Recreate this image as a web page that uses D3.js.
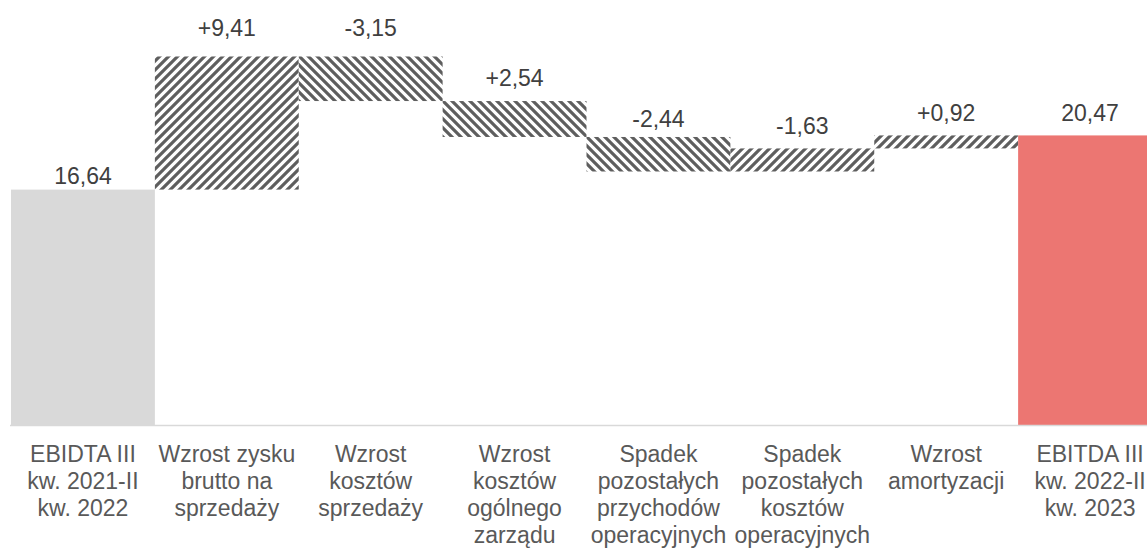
<!DOCTYPE html>
<html><head><meta charset="utf-8">
<script src="https://cdn.jsdelivr.net/npm/d3@7"></script>
<style>
html,body{margin:0;padding:0;background:#fff;overflow:hidden}
svg{display:block;font-family:"Liberation Sans",Arial,sans-serif}
</style></head><body>
<svg id="chart" width="1147" height="549"></svg>
<script>
// ---- data ----
const categories = [
  "EBIDTA III kw. 2021-II kw. 2022",
  "Wzrost zysku brutto na sprzedaży",
  "Wzrost kosztów sprzedaży",
  "Wzrost kosztów ogólnego zarządu",
  "Spadek pozostałych przychodów operacyjnych",
  "Spadek pozostałych kosztów operacyjnych",
  "Wzrost amortyzacji",
  "EBITDA III kw. 2022-II kw. 2023"
];
const labelLines = [
  ["EBIDTA III","kw. 2021-II","kw. 2022"],
  ["Wzrost zysku","brutto na","sprzedaży"],
  ["Wzrost","kosztów","sprzedaży"],
  ["Wzrost","kosztów","ogólnego","zarządu"],
  ["Spadek","pozostałych","przychodów","operacyjnych"],
  ["Spadek","pozostałych","kosztów","operacyjnych"],
  ["Wzrost","amortyzacji"],
  ["EBITDA III","kw. 2022-II","kw. 2023"]
];
const kinds = ["total","delta","delta","delta","delta","delta","delta","total"];
// value as printed on the chart
const shownValues = [16.64, 9.41, -3.15, 2.54, -2.44, -1.63, 0.92, 20.47];
// effect on EBITDA (direction of the step)
const impacts = [16.64, 9.41, -3.15, -2.54, -2.44, 1.63, 0.92, 20.47];

// ---- layout (not data): gap between label baseline and bar top, px ----
const labelGap = [6, 20, 20, 15, 10, 14, 14, 14];

// ---- build waterfall ----
let run = 0;
const bars = categories.map((c,i)=>{
  let y0,y1;
  if(kinds[i]==="total"){ y0=0; y1=impacts[i]; run=impacts[i]; }
  else { y0=run; y1=run+impacts[i]; run=y1; }
  return {cat:c, i, kind:kinds[i], lo:Math.min(y0,y1), hi:Math.max(y0,y1), up:impacts[i]>=0, shown:shownValues[i]};
});

const svg = d3.select("#chart");
const x = d3.scaleBand().domain(categories).range([11, 1162]).padding(0);
const y = d3.scaleLinear().domain([0,30]).range([425, 0.6]);

// patterns
const defs = svg.append("defs");
function hatch(id, up){
  const s = 9;
  const p = defs.append("pattern").attr("id",id).attr("patternUnits","userSpaceOnUse")
    .attr("width",s).attr("height",s);
  p.append("rect").attr("width",s).attr("height",s).attr("fill","#fff");
  const d = up
    ? `M-3,3 L3,-3 M0,${s} L${s},0 M${s-3},${s+3} L${s+3},${s-3}`
    : `M-3,${s-3} L3,${s+3} M0,0 L${s},${s} M${s-3},-3 L${s+3},3`;
  p.append("path").attr("d",d).attr("stroke","#5e5e5e").attr("stroke-width",3.2);
}
hatch("hUp", true);
hatch("hDown", false);

const fillFor = b => b.kind==="total" ? (b.i===0 ? "#d9d9d9" : "#ec7672") : (b.up ? "url(#hUp)" : "url(#hDown)");

svg.append("g").selectAll("rect").data(bars).join("rect")
  .attr("x", b=>x(b.cat))
  .attr("width", x.bandwidth())
  .attr("y", b=>y(b.hi))
  .attr("height", b=>y(b.lo)-y(b.hi))
  .attr("fill", fillFor);

// axis
const axis = d3.axisBottom(x).tickSize(0).tickSizeOuter(0);
const gx = svg.append("g").attr("transform","translate(0,425)").call(axis);
gx.select(".domain").attr("stroke","#d9d9d9").attr("stroke-width",1.5)
  .attr("d","M10,0.5H1147");
gx.selectAll(".tick text").each(function(d,i){
  const t = d3.select(this);
  t.text(null).attr("y",0).attr("dy",null)
   .attr("fill","#595959").attr("font-size","23px")
   .attr("font-family","'Liberation Sans', Arial, sans-serif");
  labelLines[i].forEach((ln,k)=>{
    t.append("tspan").attr("x",0).attr("y",37+k*27).text(ln);
  });
});

// value labels
const fmt = v => v.toFixed(2).replace(".",",");
svg.append("g").selectAll("text").data(bars).join("text")
  .attr("x", b=>x(b.cat)+x.bandwidth()/2)
  .attr("y", b=>y(b.hi)-labelGap[b.i])
  .attr("text-anchor","middle")
  .attr("font-size","23px")
  .attr("fill","#404040")
  .text(b=> b.kind==="delta" && b.shown>0 ? "+"+fmt(b.shown) : fmt(b.shown));
</script>
</body></html>
